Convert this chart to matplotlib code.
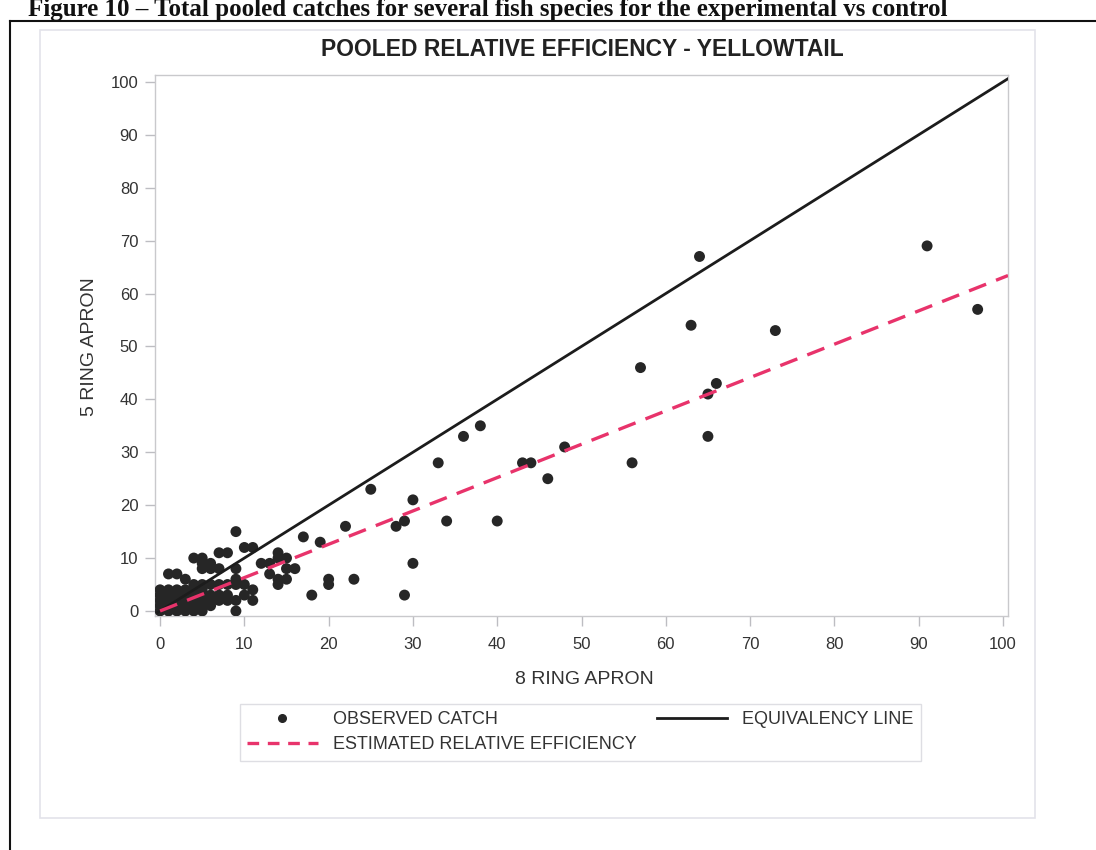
import numpy as np
import matplotlib.pyplot as plt
from matplotlib.lines import Line2D
from matplotlib.patches import Rectangle

# observed catch: 8 ring apron (x) vs 5 ring apron (y)
obs_x = [0, 0, 0, 0, 0,
         1, 1, 1, 1, 1, 1,
         2, 2, 2, 2, 2, 2,
         3, 3, 3, 3, 3, 3,
         4, 4, 4, 4, 4, 4, 4,
         5, 5, 5, 5, 5, 5, 5, 5, 5,
         6, 6, 6, 6, 6, 6,
         7, 7, 7, 7, 7,
         8, 8, 8, 8,
         9, 9, 9, 9, 9, 9,
         10, 10, 10,
         11, 11, 11,
         12, 13, 13,
         14, 14, 14, 14,
         15, 15, 15,
         16, 17, 18, 19, 20, 20, 22, 23, 25, 28, 29, 29, 30, 30,
         33, 34, 36, 38, 40, 43, 44, 46, 48, 56, 57, 63, 64, 65, 65,
         66, 73, 91, 97]
obs_y = [0, 1, 2, 3, 4,
         0, 1, 2, 3, 4, 7,
         0, 1, 2, 3, 4, 7,
         0, 1, 2, 3, 4, 6,
         0, 1, 2, 3, 4, 5, 10,
         0, 1, 2, 3, 4, 5, 8, 9, 10,
         1, 2, 3, 5, 8, 9,
         2, 3, 5, 8, 11,
         2, 3, 5, 11,
         0, 2, 5, 6, 8, 15,
         3, 5, 12,
         2, 4, 12,
         9, 7, 9,
         5, 6, 10, 11,
         6, 8, 10,
         8, 14, 3, 13, 5, 6, 16, 6, 23, 16, 3, 17, 9, 21,
         28, 17, 33, 35, 17, 28, 28, 25, 31, 28, 46, 54, 67, 33, 41,
         43, 53, 69, 57]

# line end points
equiv_x = [-0.3, 100.6]
equiv_y = [-0.3, 100.6]
est_x = [0, 100.6]
est_y = [0, 63.4]

xticks = np.arange(0, 101, 10)
yticks = np.arange(0, 101, 10)

W, H = 1096, 850
fig = plt.figure(figsize=(W / 100, H / 100), dpi=100)
fig.patch.set_facecolor('white')

def fx(px):
    return px / W

def fy(py):
    return 1 - py / H

ax = fig.add_axes([fx(155), fy(616), fx(1008) - fx(155), fy(75) - fy(616)])

ax.scatter(obs_x, obs_y, s=62, color='#262626', edgecolors='none', zorder=3)
ax.plot(equiv_x, equiv_y, color='#1c1c1c', lw=2.0, zorder=4)
ax.plot(est_x, est_y, color='#e8336b', lw=2.4, dashes=(5.5, 3.2), zorder=5)

ax.set_xlim(-0.6, 100.6)
ax.set_ylim(-0.95, 101.3)
ax.set_xticks(xticks)
ax.set_yticks(yticks)
for sp in ax.spines.values():
    sp.set_color('#c9c9cc')
    sp.set_linewidth(1.0)
ax.tick_params(axis='both', direction='out', length=7, width=1, color='#bdbdc2',
               labelsize=12, labelcolor='#333333', pad=5)
ax.tick_params(axis='x', pad=8)
for lab in ax.get_xticklabels() + ax.get_yticklabels():
    lab.set_family('Liberation Sans')

fig.text(fx(584), fy(679), '8 RING APRON', ha='center', va='center',
         fontsize=14, color='#333333', family='Liberation Sans')
fig.text(fx(90), fy(347), '5 RING APRON', ha='center', va='center', rotation=90,
         fontsize=14, color='#333333', family='Liberation Sans')
fig.text(fx(582), fy(50), 'POOLED RELATIVE EFFICIENCY - YELLOWTAIL', ha='center',
         va='center', fontsize=16.5, fontweight='bold', color='#222222',
         family='Liberation Sans')

# caption of the page above the figure
fig.text(fx(28), fy(16), 'Figure 10 \u2013 Total pooled catches for several fish species for the experimental vs control',
         ha='left', va='baseline', fontsize=18, fontweight='bold', color='#111111',
         family='Liberation Serif')

handles = [
    Line2D([], [], ls='none', marker='o', markersize=5.5, color='#262626'),
    Line2D([], [], color='#e8336b', lw=2.4, dashes=(3.5, 2.6)),
    Line2D([], [], color='#1c1c1c', lw=2.0),
]
labels = ['OBSERVED CATCH', 'ESTIMATED RELATIVE EFFICIENCY', 'EQUIVALENCY LINE']
leg = fig.legend(handles, labels, ncol=2, loc='upper left',
                 bbox_to_anchor=(fx(240), fy(704)), frameon=True, fancybox=False,
                 prop={'family': 'Liberation Sans', 'size': 13},
                 handlelength=3.9, handletextpad=0.85, columnspacing=1.1,
                 borderpad=0.4, labelspacing=0.45, borderaxespad=0)
leg.get_frame().set_edgecolor('#d6d6dc')
leg.get_frame().set_linewidth(1.0)
for t in leg.get_texts():
    t.set_color('#333333')

# faint frame of the chart image and the page border
fig.add_artist(Rectangle((fx(40), fy(818)), fx(1035) - fx(40), fy(30) - fy(818),
                         transform=fig.transFigure, fill=False, ec='#e3e3ea', lw=1.2))
fig.add_artist(Line2D([fx(10), fx(10)], [fy(21), 0], transform=fig.transFigure,
                      color='#111111', lw=1.5))
fig.add_artist(Line2D([fx(10), 1], [fy(21), fy(21)], transform=fig.transFigure,
                      color='#111111', lw=1.5))

plt.savefig('out.png', dpi=100)
